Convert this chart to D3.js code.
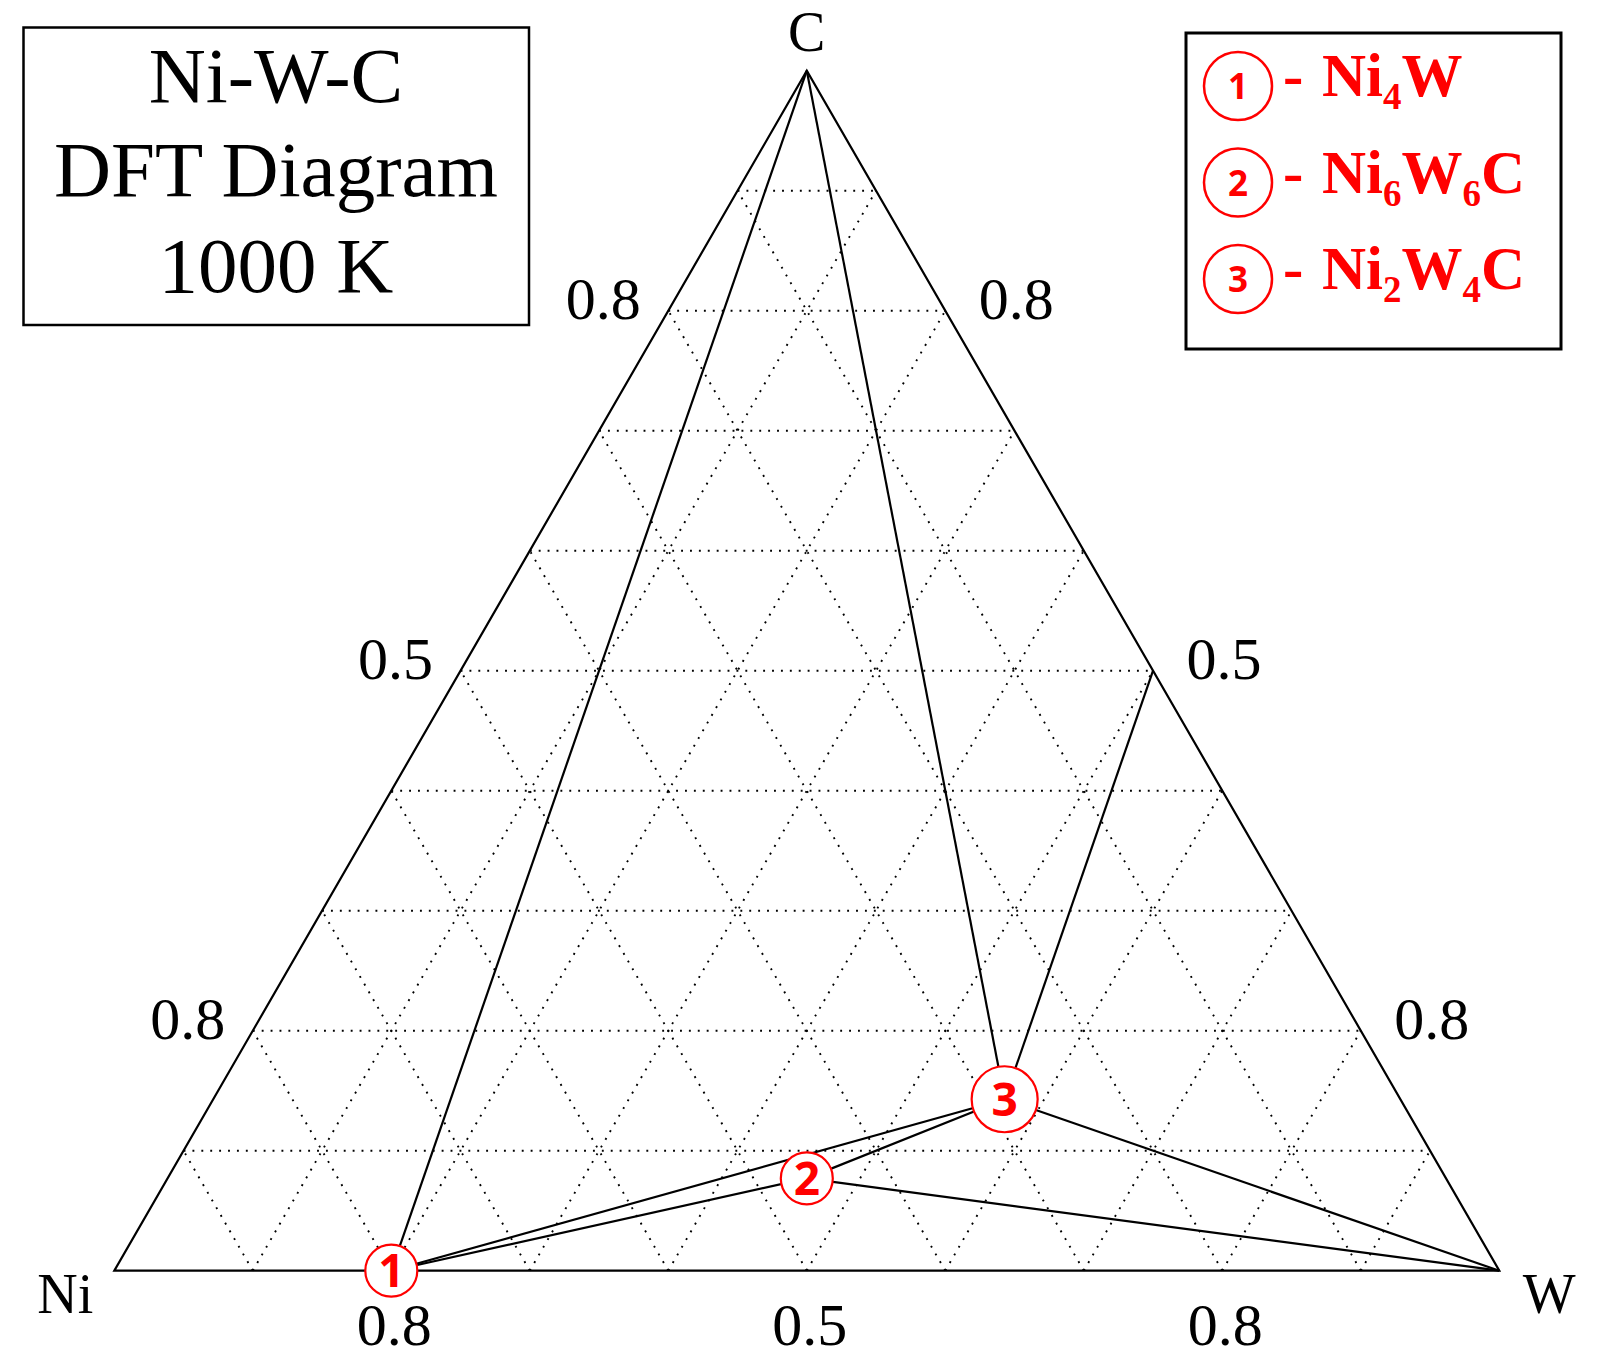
<!DOCTYPE html>
<html>
<head>
<meta charset="utf-8">
<script src="https://cdn.jsdelivr.net/npm/d3@7"></script>
<style>
  html, body { margin: 0; padding: 0; background: #fff; }
  svg { display: block; }
</style>
</head>
<body>
<svg id="chart" width="1599" height="1357"></svg>
<script>
// ---------------- DATA ----------------
const vertexNames = ["Ni", "W", "C"];
// compositions (mole fraction of W and C; Ni is the remainder)
const pointNames = ["Ni", "W", "C", "WC", "Ni4W", "Ni6W6C", "Ni2W4C"];
const pointW = [0, 1, 0, 0.5, 1 / 5, 6 / 13, 4 / 7];
const pointC = [0, 0, 1, 0.5, 0, 1 / 13, 1 / 7];
// tie lines (pairs of point names)
const tieFrom = ["C", "C", "WC", "Ni2W4C", "Ni4W", "Ni4W", "Ni6W6C", "Ni6W6C"];
const tieTo = ["Ni4W", "Ni2W4C", "Ni2W4C", "W", "Ni2W4C", "Ni6W6C", "Ni2W4C", "W"];
// labelled phases
const phaseIds = ["1", "2", "3"];
const phasePoint = ["Ni4W", "Ni6W6C", "Ni2W4C"];
const phaseFormulaMain = [["Ni", "W"], ["Ni", "W", "C"], ["Ni", "W", "C"]];
const phaseFormulaSub = [["4", ""], ["6", "6", ""], ["2", "4", ""]];
// grid and tick labels
const gridSteps = [0.1, 0.2, 0.3, 0.4, 0.5, 0.6, 0.7, 0.8, 0.9];
const tickPos = [0.2, 0.5, 0.8];
const leftTickLabels = ["0.8", "0.5", "0.8"];   // at C fraction 0.2,0.5,0.8
const rightTickLabels = ["0.8", "0.5", "0.8"];
const bottomTickLabels = ["0.8", "0.5", "0.8"];  // at W fraction 0.2,0.5,0.8
const titleLines = ["Ni-W-C", "DFT Diagram", "1000 K"];

// ---------------- SCALES ----------------
const svg = d3.select("#chart");
const sx = d3.scaleLinear().domain([0, 1]).range([114.3, 1499.3]);
const sy = d3.scaleLinear().domain([0, 1]).range([1270.7, 70.7]);
const px = (w, c) => sx(w + c / 2);
const py = (w, c) => sy(c);
const idx = name => pointNames.indexOf(name);
const P = name => [px(pointW[idx(name)], pointC[idx(name)]), py(pointW[idx(name)], pointC[idx(name)])];

const serif = "'Liberation Serif', 'Times New Roman', serif";
const sans = "'Open Sans', 'DejaVu Sans', sans-serif";
const red = "#ff0000";

// ---------------- GRID ----------------
const gridSegs = [];
gridSteps.forEach(t => {
  gridSegs.push([[px(0, t), py(0, t)], [px(1 - t, t), py(1 - t, t)]]);
  gridSegs.push([[px(t, 0), py(t, 0)], [px(t, 1 - t), py(t, 1 - t)]]);
  gridSegs.push([[px(1 - t, 0), py(1 - t, 0)], [px(0, 1 - t), py(0, 1 - t)]]);
});
svg.append("g").selectAll("line").data(gridSegs).join("line")
  .attr("x1", d => d[0][0]).attr("y1", d => d[0][1])
  .attr("x2", d => d[1][0]).attr("y2", d => d[1][1])
  .attr("stroke", "#000").attr("stroke-width", 1.9)
  .attr("stroke-dasharray", "1.9,7");

// ---------------- TRIANGLE ----------------
const tri = vertexNames.map(P);
svg.append("path")
  .attr("d", d3.line()(tri) + "Z")
  .attr("fill", "none").attr("stroke", "#000").attr("stroke-width", 2.2)
  .attr("stroke-linejoin", "miter");

// ---------------- TIE LINES ----------------
svg.append("g").selectAll("line").data(tieFrom.map((f, i) => [P(f), P(tieTo[i])])).join("line")
  .attr("x1", d => d[0][0]).attr("y1", d => d[0][1])
  .attr("x2", d => d[1][0]).attr("y2", d => d[1][1])
  .attr("stroke", "#000").attr("stroke-width", 2.2);

// ---------------- VERTEX LABELS ----------------
const vLabOff = { Ni: [-49, 42], W: [50, 42], C: [0, -20] };
vertexNames.forEach(n => {
  const [x, y] = P(n);
  svg.append("text").attr("x", x + vLabOff[n][0]).attr("y", y + vLabOff[n][1])
    .attr("text-anchor", "middle").attr("font-family", serif).attr("font-size", 56)
    .text(n);
});

// ---------------- TICK LABELS ----------------
const tickG = svg.append("g").attr("font-family", serif).attr("font-size", 60).attr("text-anchor", "middle");
tickPos.forEach((t, i) => {
  tickG.append("text").attr("x", px(0, t) - 65).attr("y", py(0, t) + 8).text(leftTickLabels[i]);
  tickG.append("text").attr("x", px(1 - t, t) + 71).attr("y", py(1 - t, t) + 8).text(rightTickLabels[i]);
  tickG.append("text").attr("x", px(t, 0) + 3).attr("y", py(t, 0) + 74).text(bottomTickLabels[i]);
});

// ---------------- PHASE MARKERS ----------------
const markerR = [26, 26, 33];
phaseIds.forEach((id, i) => {
  const [x, y] = P(phasePoint[i]);
  svg.append("circle").attr("cx", x).attr("cy", y).attr("r", markerR[i])
    .attr("fill", "#fff").attr("stroke", red).attr("stroke-width", 2.2);
  svg.append("text").attr("x", x).attr("y", y + 16.5)
    .attr("text-anchor", "middle").attr("font-family", sans).attr("font-weight", 700)
    .attr("font-size", 46).attr("fill", red).text(id);
});

// ---------------- TITLE BOX ----------------
svg.append("rect").attr("x", 23.5).attr("y", 27.5).attr("width", 505.5).attr("height", 297.5)
  .attr("fill", "#fff").attr("stroke", "#000").attr("stroke-width", 2.5);
const titleBase = [102, 196, 292];
titleLines.forEach((s, i) => {
  svg.append("text").attr("x", 276).attr("y", titleBase[i]).attr("text-anchor", "middle")
    .attr("font-family", serif).attr("font-size", 79).text(s);
});

// ---------------- LEGEND ----------------
svg.append("rect").attr("x", 1186).attr("y", 33).attr("width", 375).attr("height", 316)
  .attr("fill", "#fff").attr("stroke", "#000").attr("stroke-width", 3);
const legCY = [86, 182.5, 279];
phaseIds.forEach((id, i) => {
  const cy = legCY[i];
  svg.append("circle").attr("cx", 1238).attr("cy", cy).attr("r", 34)
    .attr("fill", "#fff").attr("stroke", red).attr("stroke-width", 2.5);
  svg.append("text").attr("x", 1238).attr("y", cy + 13).attr("text-anchor", "middle")
    .attr("font-family", sans).attr("font-weight", 700).attr("font-size", 35).attr("fill", red).text(id);
  svg.append("text").attr("x", 1283).attr("y", cy + 10)
    .attr("font-family", serif).attr("font-weight", 700).attr("font-size", 61).attr("fill", red).text("-");
  const t = svg.append("text").attr("x", 1322).attr("y", cy + 10)
    .attr("font-family", serif).attr("font-weight", 700).attr("font-size", 61).attr("fill", red);
  phaseFormulaMain[i].forEach((m, j) => {
    t.append("tspan").attr("font-size", 61).attr("dy", j === 0 ? 0 : -13).text(m);
    const sub = phaseFormulaSub[i][j];
    if (sub) t.append("tspan").attr("font-size", 37).attr("dy", 13).text(sub);
    else if (j < phaseFormulaMain[i].length - 1) t.append("tspan").attr("dy", 13).text("");
  });
});
</script>
</body>
</html>
